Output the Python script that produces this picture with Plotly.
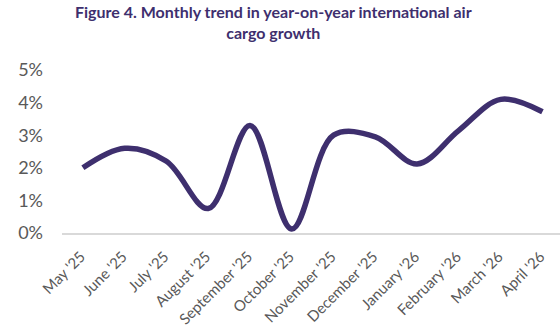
import plotly.graph_objects as go

months = ["May '25", "June '25", "July '25", "August '25", "September '25", "October '25",
          "November '25", "December '25", "January '26", "February '26", "March '26", "April '26"]
growth_pct = [2.0, 2.6, 2.2, 0.75, 3.3, 0.12, 3.0, 2.95, 2.12, 3.15, 4.1, 3.72]
y_ticks = [0, 1, 2, 3, 4, 5]

purple = "#3E2F6E"
grey_text = "#595959"

fig = go.Figure()
fig.add_trace(go.Scatter(
    x=list(range(len(months))),
    y=growth_pct,
    mode="lines",
    line=dict(color=purple, width=5.5, shape="spline", smoothing=1.0),
    cliponaxis=False,
    hoverinfo="skip",
))

# Two-line chart heading placed above the plot area
fig.add_annotation(
    text="<b>Figure 4. Monthly trend in year-on-year international air<br>cargo growth</b>",
    xref="paper", yref="paper", x=0.425, y=1.43,
    xanchor="center", yanchor="top", showarrow=False, align="center",
    font=dict(family="Lato, Open Sans, sans-serif", size=16, color=purple),
)

fig.update_layout(
    width=560, height=329,
    margin=dict(l=62, r=0, t=70, b=96),
    paper_bgcolor="white", plot_bgcolor="white",
    showlegend=False,
    font=dict(family="Lato, Open Sans, sans-serif", color=grey_text),
)
fig.update_xaxes(
    range=[-0.5, 11.42], automargin=False,
    tickmode="array", tickvals=list(range(len(months))), ticktext=months,
    tickangle=-45, tickfont=dict(size=15, color=grey_text),
    showgrid=False, zeroline=False,
    showline=True, linecolor="#d9d9d9", linewidth=2,
    ticks="", ticklabelstandoff=7, ticklabelshift=-2,
)
fig.update_yaxes(
    range=[0, 5], automargin=False,
    tickmode="array", tickvals=y_ticks, ticktext=[f"{v}%" for v in y_ticks],
    tickfont=dict(size=18, color=grey_text),
    showgrid=False, zeroline=False, showline=False,
    ticks="", ticklabelstandoff=18,
)

fig.write_html("out.html")
